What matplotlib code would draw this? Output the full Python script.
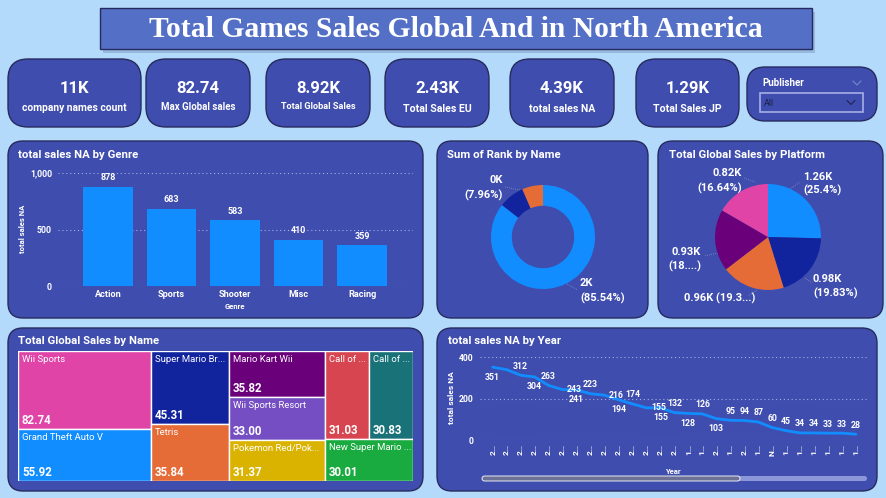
import matplotlib
matplotlib.use("Agg")
import matplotlib.pyplot as plt
from matplotlib.patches import FancyBboxPatch, Rectangle
from matplotlib.textpath import TextToPath
from matplotlib.font_manager import FontProperties
import numpy as np

# ---------------- data ----------------
title = "Total Games Sales Global And in North America"

kpi_values = ["11K", "82.74", "8.92K", "2.43K", "4.39K", "1.29K"]
kpi_labels = ["company names count", "Max Global sales", "Total Global Sales",
              "Total Sales EU", "total sales NA", "Total Sales JP"]

genres = ["Action", "Sports", "Shooter", "Misc", "Racing"]
genre_na_sales = [878, 683, 583, 410, 359]

rank_share_pct = [85.54, 7.96, 6.50]
rank_value_text = ["2K", "0K", ""]
rank_pct_text = ["(85.54%)", "(7.96%)", ""]

platform_sales_text = ["1.26K", "0.98K", "0.96K", "0.93K", "0.82K"]
platform_pct = [25.40, 19.83, 19.33, 18.80, 16.64]
platform_pct_text = ["(25.4%)", "(19.83%)", "(19.3...)", "(18....)", "(16.64%)"]

game_names = ["Wii Sports", "Grand Theft Auto V", "Super Mario Bros.", "Tetris",
              "Mario Kart Wii", "Wii Sports Resort", "Pokemon Red/Pokemon Blue",
              "Call of Duty: Modern Warfare 3", "Call of Duty: Black Ops",
              "New Super Mario Bros."]
game_global_sales = [82.74, 55.92, 45.31, 35.84, 35.82, 33.00, 31.37, 31.03, 30.83, 30.01]

years = ["2008", "2009", "2007", "2010", "2006", "2005", "2011", "2004", "2002", "2003",
         "2001", "2012", "2013", "2014", "1998", "1999", "2015", "1997", "2000", "1996",
         "N/A", "1989", "1992", "1985", "1981", "1984", "1994"]
na_by_year = [351, 339, 312, 304, 263, 243, 241, 223, 216, 194, 174, 155, 155, 132, 128,
              126, 103, 95, 94, 87, 60, 45, 34, 34, 33, 33, 28]

# ---------------- style ----------------
BG = "#B4DAFB"
PANEL = "#3F4EAE"
EDGE = "#262B5E"
TITLE_BOX = "#5470C6"
GRID = "#A3ADE6"
BLUE, NAVY, ORANGE, PURPLE, PINK = "#118DFF", "#12239E", "#E66C37", "#6B007B", "#E044A7"
tree_colors = [PINK, BLUE, NAVY, ORANGE, PURPLE, "#744EC2", "#D9B300", "#D64550", "#197278", "#1AAB40"]
# label placement for the year line: a=above, b=below, r=right, ''=hidden
year_label_pos = ["b", "", "a", "b", "a", "r", "b", "a", "r", "b", "a", "r", "b", "a", "b",
                  "a", "b", "a", "a", "a", "a", "a", "a", "a", "a", "a", "a"]

plt.rcParams["font.family"] = ["Roboto", "DejaVu Sans"]

W, H, DPI = 887, 498, 100
fig = plt.figure(figsize=(W / DPI, H / DPI), dpi=DPI)
fig.patch.set_facecolor(BG)
bg = fig.add_axes([0, 0, 1, 1])
bg.set_xlim(0, W)
bg.set_ylim(H, 0)
bg.axis("off")

ttp = TextToPath()


def text_px(s, size, weight="normal", family=("Roboto",)):
    prop = FontProperties(family=list(family), size=size, weight=weight)
    w, h, d = ttp.get_text_width_height_descent(s, prop, ismath=False)
    return w * DPI / 72.0


def px_axes(x0, y0, x1, y1):
    ax = fig.add_axes([x0 / W, 1 - y1 / H, (x1 - x0) / W, (y1 - y0) / H])
    ax.set_facecolor("none")
    return ax


def panel(x0, y0, x1, y1, r=15, fc=PANEL, ec=EDGE, lw=1.0, z=1):
    p = FancyBboxPatch((x0, y0), x1 - x0, y1 - y0,
                       boxstyle=f"round,pad=0,rounding_size={r}",
                       fc=fc, ec=ec, lw=lw, zorder=z)
    bg.add_patch(p)


def btext(x, y, s, size, weight="bold", ha="center", va="center", color="white", **kw):
    bg.text(x, y, s, fontsize=size, fontweight=weight, ha=ha, va=va, color=color, **kw)


# ---------------- title ----------------
bg.add_patch(Rectangle((103, 12), 712, 41, fc="#7E9CC4", ec="none", alpha=0.55, zorder=1))
bg.add_patch(Rectangle((100, 8), 712, 41, fc=TITLE_BOX, ec=EDGE, lw=1.0, zorder=2))
tsize = 20 * 614 / text_px(title, 20, "bold", ("Liberation Serif",))
bg.text(456, 29, title, fontsize=tsize, fontweight="bold", family="Liberation Serif",
        color="white", ha="center", va="center", zorder=3)

# ---------------- KPI cards ----------------
card_x = [(8, 141), (146, 250), (266, 370), (385, 489), (510, 614), (636, 739)]
card_label_size = [7.4, 6.9, 6.6, 7.6, 7.6, 7.6]
card_label_y = [108, 107, 106, 109, 109, 109]
for (x0, x1), v, lab, ls, ly in zip(card_x, kpi_values, kpi_labels, card_label_size, card_label_y):
    panel(x0, 59, x1, 127, r=20)
    btext((x0 + x1) / 2, 88, v, 12)
    btext((x0 + x1) / 2, ly, lab, ls)

# slicer
panel(747, 67, 877, 121, r=18)
btext(762, 83, "Publisher", 7, ha="left")
bg.plot([853, 857, 861], [81, 85, 81], color="#7F8BCB", lw=0.7)
bg.add_patch(Rectangle((760, 93), 103, 19, fc=PANEL, ec="#A7AFE6", lw=1.2))
btext(764, 103, "All", 6.5, weight="normal", ha="left", color="#1A1F4A")
bg.plot([847, 851, 855], [100.5, 104.5, 100.5], color="#1A1F4A", lw=0.7)

# ---------------- panels ----------------
panel(8, 141, 423, 318)
panel(437, 141, 648, 318)
panel(658, 141, 883, 318)
panel(8, 328, 423, 491)
panel(437, 328, 877, 491)

btext(18, 155, "total sales NA by Genre", 8.2, ha="left")
btext(447, 155, "Sum of Rank by Name", 8.2, ha="left")
btext(669, 155, "Total Global Sales by Platform", 8.2, ha="left")
btext(18, 341, "Total Global Sales by Name", 8.2, ha="left")
btext(448, 341, "total sales NA by Year", 8.2, ha="left")

# ---------------- bar chart ----------------
axg = px_axes(58, 173, 413, 286)
xg = np.arange(len(genres))
axg.bar(xg, genre_na_sales, width=0.78, color=BLUE, zorder=3)
axg.set_xlim(-0.79, len(genres) - 1 + 0.8)
axg.set_ylim(0, 1000)
axg.set_yticks([0, 500, 1000])
axg.set_yticklabels(["0", "500", "1,000"])
axg.set_xticks(xg)
axg.set_xticklabels(genres)
axg.tick_params(axis="y", length=0, colors="white", labelsize=6.3, pad=4.3)
axg.tick_params(axis="x", length=0, colors="white", labelsize=6.6, pad=2.8)
for lab in axg.get_xticklabels() + axg.get_yticklabels():
    lab.set_fontweight("bold")
axg.grid(axis="y", ls=(0, (1, 2.5)), color=GRID, lw=0.8, zorder=0)
axg.set_axisbelow(True)
for s in axg.spines.values():
    s.set_visible(False)
for xi, v in zip(xg, genre_na_sales):
    axg.annotate(f"{v:,}", (xi, v), xytext=(0, 4.5), textcoords="offset pixels",
                 ha="center", va="bottom", color="white", fontsize=6.5, fontweight="bold",
                 annotation_clip=False)
btext(23, 229, "total sales NA", 5.5, rotation=90)
btext(235, 306, "Genre", 5.5)

# ---------------- donut ----------------
def round_axes(cx, cy, r, lim=1.12):
    s = lim * r
    ax = px_axes(cx - s, cy - s, cx + s, cy + s)
    return ax, lim

axd, lim = round_axes(543, 237, 52)
axd.pie(rank_share_pct, colors=[BLUE, NAVY, ORANGE], startangle=90, counterclock=False,
        radius=1, wedgeprops=dict(width=0.4, linewidth=0))
axd.set_xlim(-lim, lim); axd.set_ylim(-lim, lim); axd.axis("off")

btext(503, 180, rank_value_text[1], 8, ha="right")
btext(503, 195, rank_pct_text[1], 8, ha="right")
btext(580, 283, rank_value_text[0], 8, ha="left")
btext(580, 298, rank_pct_text[0], 8, ha="left")
bg.plot([505, 520], [187, 190], ls=(0, (1, 1.5)), color="#8A93C9", lw=0.6)
bg.plot([567, 578], [284, 290], ls=(0, (1, 1.5)), color="#8A93C9", lw=0.6)

# ---------------- pie ----------------
axp, lim = round_axes(768, 237, 53)
axp.pie(platform_pct, colors=[BLUE, NAVY, ORANGE, PURPLE, PINK], startangle=90,
        counterclock=False, radius=1, wedgeprops=dict(linewidth=0))
axp.set_xlim(-lim, lim); axp.set_ylim(-lim, lim); axp.axis("off")

btext(803, 177, platform_sales_text[0], 8, ha="left")
btext(803, 190, platform_pct_text[0], 8, ha="left")
btext(813, 279, platform_sales_text[1], 8, ha="left")
btext(813, 293, platform_pct_text[1], 8, ha="left")
btext(719.5, 298, platform_sales_text[2] + " " + platform_pct_text[2], 8)
btext(701, 252, platform_sales_text[3], 8, ha="right")
btext(701, 266, platform_pct_text[3], 8, ha="right")
btext(742, 173, platform_sales_text[4], 8, ha="right")
btext(742, 188, platform_pct_text[4], 8, ha="right")
for xs_, ys_ in [([790, 800], [189, 182]), ([805, 812], [278, 283]), ([757, 748], [290, 296]),
                 ([718, 704], [253, 256]), ([744, 755], [178, 182])]:
    bg.plot(xs_, ys_, ls=(0, (1, 1.5)), color="#8A93C9", lw=0.6)

# ---------------- treemap (d3 squarify, golden ratio) ----------------
def squarify(values, x0, y0, x1, y1, ratio=(1 + 5 ** 0.5) / 2):
    rects = [None] * len(values)
    value = float(sum(values))
    n = len(values)
    i0 = i1 = 0
    while i0 < n:
        dx, dy = x1 - x0, y1 - y0
        sumv = values[i1]
        i1 += 1
        minv = maxv = sumv
        alpha = max(dy / dx, dx / dy) / (value * ratio)
        beta = sumv * sumv * alpha
        minratio = max(maxv / beta, beta / minv)
        while i1 < n:
            v = values[i1]
            s2 = sumv + v
            mn, mx = min(minv, v), max(maxv, v)
            beta = s2 * s2 * alpha
            nr = max(mx / beta, beta / mn)
            if nr > minratio:
                break
            sumv, minv, maxv, minratio = s2, mn, mx, nr
            i1 += 1
        row = range(i0, i1)
        if dx < dy:
            yb = y0 + dy * sumv / value
            xx = x0
            for k in row:
                w = dx * values[k] / sumv
                rects[k] = (xx, y0, w, yb - y0)
                xx += w
            y0 = yb
        else:
            xb = x0 + dx * sumv / value
            yy = y0
            for k in row:
                h = dy * values[k] / sumv
                rects[k] = (x0, yy, xb - x0, h)
                yy += h
            x0 = xb
        value -= sumv
        i0 = i1
    return rects


def fit_text(s, avail, size, weight="normal"):
    if text_px(s, size, weight) <= avail:
        return s
    for k in range(len(s) - 1, 0, -1):
        t = s[:k] + "..."
        if text_px(t, size, weight) <= avail:
            return t
    return "..."


TX0, TY0, TX1, TY1 = 18, 351, 413, 481
axt = px_axes(TX0, TY0, TX1, TY1)
tw, th = TX1 - TX0, TY1 - TY0
axt.set_xlim(0, tw)
axt.set_ylim(th, 0)
axt.axis("off")
for (x, y, w, h), name, val, col in zip(squarify(game_global_sales, 0, 0, tw, th),
                                       game_names, game_global_sales, tree_colors):
    axt.add_patch(Rectangle((x, y), w, h, fc=col, ec="white", lw=1.0))
    axt.text(x + 4, y + 4, fit_text(name, w - 6, 6.8), fontsize=6.8, color="white",
             ha="left", va="top")
    axt.text(x + 4, y + h - 2, f"{val:.2f}", fontsize=8.3, fontweight="bold", color="white",
             ha="left", va="bottom")

# ---------------- line chart ----------------
axl = px_axes(480, 357, 867, 440)
xl = np.arange(len(years))
axl.plot(xl, na_by_year, color=BLUE, lw=2.0, solid_joinstyle="round",
         solid_capstyle="round", zorder=3)
axl.set_xlim(-0.909, len(years) - 1 + 0.79)
axl.set_ylim(0, 400)
axl.set_yticks([0, 200, 400])
axl.set_xticks(xl)
axl.set_xticklabels([y[0] + "\u2026" for y in years], rotation=90)
axl.tick_params(axis="y", length=0, colors="white", labelsize=6.2, pad=5)
axl.tick_params(axis="x", length=0, colors="white", labelsize=6, pad=3)
for lab in axl.get_xticklabels() + axl.get_yticklabels():
    lab.set_fontweight("bold")
axl.grid(axis="y", ls=(0, (1, 2.5)), color=GRID, lw=0.8, zorder=0)
for s in axl.spines.values():
    s.set_visible(False)
offsets = {"a": (0, 9), "b": (0, -10), "r": (12, 0)}
for xi, v, p in zip(xl, na_by_year, year_label_pos):
    if not p:
        continue
    axl.annotate(str(v), (xi, v), xytext=offsets[p], textcoords="offset pixels",
                 ha="center", va="center", color="white", fontsize=6.3,
                 fontweight="bold", annotation_clip=False)
btext(452, 398, "total sales NA", 6, rotation=90)
btext(673, 471, "Year", 5.5)
# scrollbar
bg.add_patch(FancyBboxPatch((482, 476), 385, 5, boxstyle="round,pad=0,rounding_size=2.5",
                            fc="#8C97DA", ec="none"))
bg.add_patch(FancyBboxPatch((482, 476), 258, 5, boxstyle="round,pad=0,rounding_size=2.5",
                            fc="#6E7196", ec="white", lw=0.6))

fig.savefig("out.png", dpi=DPI, facecolor=BG)
